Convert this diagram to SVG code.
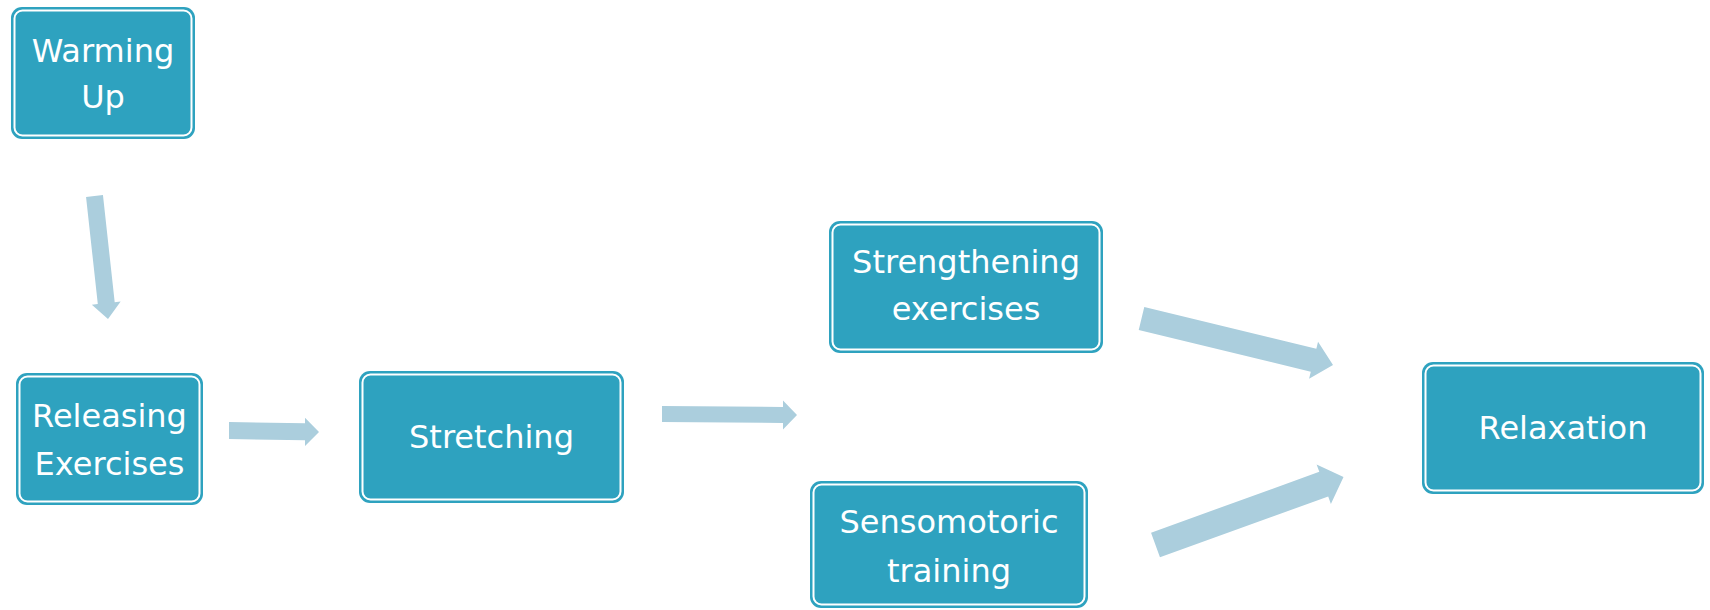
<svg xmlns="http://www.w3.org/2000/svg" width="1710" height="610" viewBox="0 0 1710 610">
<style>
.box{fill:#2ea2bf;}
.ring{fill:none;stroke:#ffffff;stroke-width:2;}
.lbl{fill:#ffffff;font-family:"DejaVu Sans",sans-serif;font-size:32px;text-anchor:middle;}
.arr{fill:#abcedd;}
</style>
<rect width="1710" height="610" fill="#ffffff"/>
<g id="connectors">
<polygon class="arr" points="86.05,196.93 97.8,304.03 91.84,304.68 108,319 120.66,301.52 114.7,302.17 102.95,195.07"/>
<polygon class="arr" points="229,439 305,440.3 305,446 319,432 305,417.8 305,423.3 229,422"/>
<polygon class="arr" points="662,422 783,423 783,429.4 797,415 783,400.4 783,407 662,406"/>
<polygon class="arr" points="1138.73,329.92 1310.8,371.7 1309.09,378.74 1333,365 1318.05,341.82 1316.34,348.86 1144.27,307.08"/>
<polygon class="arr" points="1159.96,557.32 1328.21,496.46 1330.89,503.89 1343.5,477 1316.61,464.39 1319.29,471.82 1151.04,532.68"/>
</g>
<g id="warming-up">
<rect class="box" x="11" y="7" width="184" height="132" rx="11"/>
<rect class="ring" x="14.5" y="10.5" width="177" height="125" rx="8"/>
<text class="lbl" x="103" y="62">Warming</text>
<text class="lbl" x="103" y="108">Up</text>
</g>
<g id="releasing">
<rect class="box" x="16" y="373" width="187" height="132" rx="11"/>
<rect class="ring" x="19.5" y="376.5" width="180" height="125" rx="8"/>
<text class="lbl" x="109.5" y="427">Releasing</text>
<text class="lbl" x="109.5" y="475">Exercises</text>
</g>
<g id="stretching">
<rect class="box" x="359" y="371" width="265" height="132" rx="11"/>
<rect class="ring" x="362.5" y="374.5" width="258" height="125" rx="8"/>
<text class="lbl" x="491.5" y="448">Stretching</text>
</g>
<g id="strengthening">
<rect class="box" x="829" y="221" width="274" height="132" rx="11"/>
<rect class="ring" x="832.5" y="224.5" width="267" height="125" rx="8"/>
<text class="lbl" x="966" y="273">Strengthening</text>
<text class="lbl" x="966" y="320">exercises</text>
</g>
<g id="sensomotoric">
<rect class="box" x="810" y="481" width="278" height="127" rx="11"/>
<rect class="ring" x="813.5" y="484.5" width="271" height="120" rx="8"/>
<text class="lbl" x="949" y="533">Sensomotoric</text>
<text class="lbl" x="949" y="582">training</text>
</g>
<g id="relaxation">
<rect class="box" x="1422" y="362" width="282" height="132" rx="11"/>
<rect class="ring" x="1425.5" y="365.5" width="275" height="125" rx="8"/>
<text class="lbl" x="1563" y="439">Relaxation</text>
</g>
</svg>
